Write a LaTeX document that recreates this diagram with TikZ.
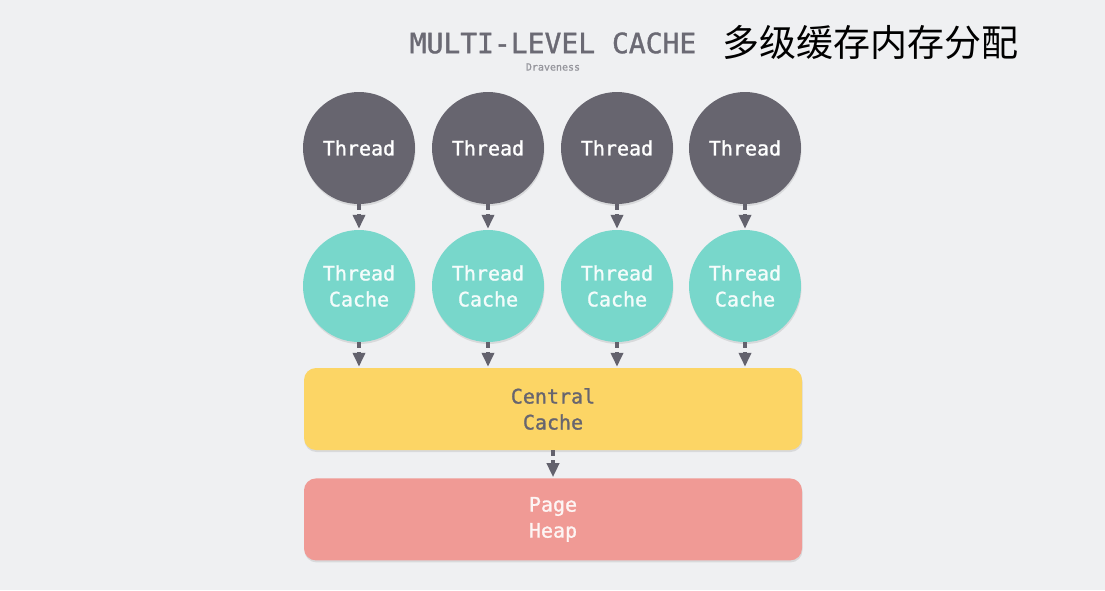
\documentclass[tikz,border=0pt]{standalone}
\usepackage{fontspec}
\setmonofont{DejaVu Sans Mono}[FakeBold=1.2]
\newfontfamily\cjk{Noto Sans CJK SC}
\usetikzlibrary{positioning,shadows,arrows.meta}
\definecolor{bggray}{HTML}{EFF0F2}
\definecolor{threadgray}{HTML}{67656F}
\definecolor{cacheteal}{HTML}{78D7CB}
\definecolor{centralyellow}{HTML}{FCD565}
\definecolor{heapred}{HTML}{F09A95}
\definecolor{arrowgray}{HTML}{63626D}
\definecolor{titlegray}{HTML}{6B6A74}

\begin{document}
\begin{tikzpicture}[x=1pt, y=-1pt, node distance=129pt,
		every node/.style={font=\ttfamily},
		thread/.style={
			circle,
			fill=threadgray,
			minimum size=112pt,
			inner sep=0pt,
			text=white,
			align=center,
			font=\ttfamily\fontsize{20}{26}\selectfont,
			drop shadow={opacity=0.2, shadow xshift=0.5pt, shadow yshift=-2pt}},
		tcache/.style={
			thread,
			fill=cacheteal,
			text=white!92!cacheteal},
		wide/.style={
			rectangle,
			minimum width=498pt,
			minimum height=82pt,
			rounded corners=12pt,
			align=center,
			font=\ttfamily\fontsize{20}{26}\selectfont,
			drop shadow={opacity=0.2, shadow xshift=0.5pt, shadow yshift=-2pt}},
		flow/.style={
			draw=arrowgray,
			line width=4pt,
			dash pattern=on 6pt off 4pt,
			shorten >=1pt,
			-{Triangle[length=14pt, width=12pt]}}]

	\fill [bggray] (0,0) rectangle (1105,590);
	\useasboundingbox (0,0) rectangle (1105,590);

	\node (title) [text=titlegray, font=\ttfamily\fontsize{28}{28}\selectfont] at (553,43) {MULTI-LEVEL CACHE};
	\node (author) [text=titlegray!70, font=\ttfamily\fontsize{10}{10}\selectfont] at (553,67) {Draveness};
	\node (cntitle) [font=\cjk\fontsize{37}{37}\selectfont] at (870,42) {多级缓存内存分配};

	\node (t1) [thread] at (359,148) {Thread};
	\node (t2) [thread, right of = t1] {Thread};
	\node (t3) [thread, right of = t2] {Thread};
	\node (t4) [thread, right of = t3, xshift=-1pt] {Thread};

	\node (c1) [tcache, below of = t1, yshift=-9pt] {Thread\\Cache};
	\node (c2) [tcache, below of = t2, yshift=-9pt] {Thread\\Cache};
	\node (c3) [tcache, below of = t3, yshift=-9pt] {Thread\\Cache};
	\node (c4) [tcache, below of = t4, yshift=-9pt] {Thread\\Cache};

	\node (central) [wide, fill=centralyellow, text=threadgray] at (553,409) {Central\\Cache};
	\node (heap) [wide, fill=heapred, text=white!90!heapred, below=28pt of central] {Page\\Heap};

	\draw [flow] (t1) -- (c1);
	\draw [flow] (t2) -- (c2);
	\draw [flow] (t3) -- (c3);
	\draw [flow] (t4) -- (c4);

	\draw [flow] (c1) -- (c1 |- central.north);
	\draw [flow] (c2) -- (c2 |- central.north);
	\draw [flow] (c3) -- (c3 |- central.north);
	\draw [flow] (c4) -- (c4 |- central.north);

	\draw [flow] (central) -- (heap);
\end{tikzpicture}
\end{document}
